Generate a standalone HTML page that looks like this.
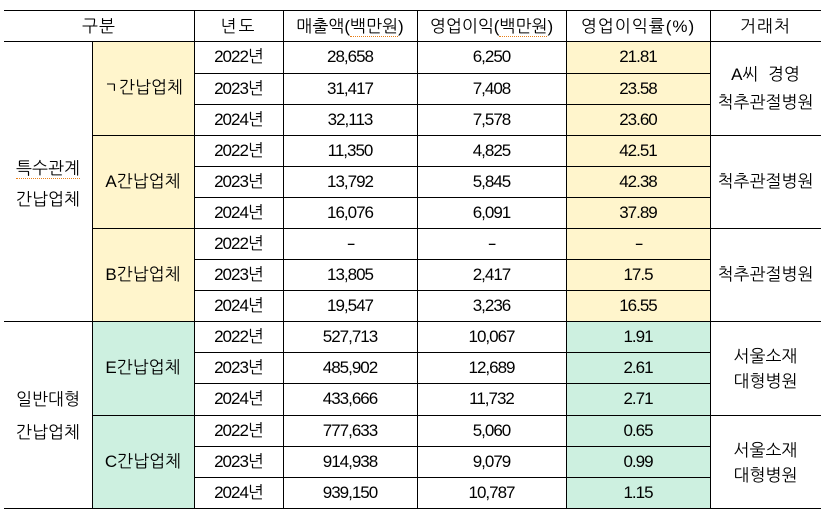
<!DOCTYPE html>
<html><head><meta charset="utf-8">
<style>
html,body{margin:0;padding:0;background:#fff;}
body{width:830px;height:522px;position:relative;overflow:hidden;font-family:"Liberation Sans","NanumGothic","Noto Sans CJK KR",sans-serif;color:#000;}
.bg{position:absolute;}
.y{background:#fff5cc;}
.g{background:#cdf0e0;}
.h{position:absolute;height:1px;background:#000;}
.v{position:absolute;width:1px;background:#000;}
.t{position:absolute;text-align:center;white-space:nowrap;font-size:17px;}
.n{font-size:17px;letter-spacing:-1px;}
.u{border-bottom:1px dotted #e8801a;}
.d{display:inline-block;transform:scaleX(1.6);}
.c2{left:92px;width:102px;}
.c3{left:194px;width:89px;}
.c4{left:283px;width:134px;}
.c5{left:417px;width:149px;}
.c6{left:566px;width:144px;}
.c7{left:710px;width:111px;}
.c1{left:4px;width:88px;}
</style></head><body>

<!-- backgrounds -->
<div class="bg y" style="left:92px;top:41px;width:102px;height:280px"></div>
<div class="bg g" style="left:92px;top:321px;width:102px;height:187px"></div>
<div class="bg y" style="left:566px;top:41px;width:144px;height:280px"></div>
<div class="bg g" style="left:566px;top:321px;width:144px;height:187px"></div>

<!-- horizontal lines -->
<div class="h" style="left:4px;width:817px;top:10px"></div>
<div class="h" style="left:4px;width:817px;top:41px"></div>
<div class="h" style="left:4px;width:817px;top:321px"></div>
<div class="h" style="left:4px;width:817px;top:508px"></div>
<div class="h" style="left:92px;width:729px;top:135px"></div>
<div class="h" style="left:92px;width:729px;top:228px"></div>
<div class="h" style="left:92px;width:729px;top:415px"></div>
<div class="h" style="left:194px;width:516px;top:73px"></div>
<div class="h" style="left:194px;width:516px;top:104px"></div>
<div class="h" style="left:194px;width:516px;top:166px"></div>
<div class="h" style="left:194px;width:516px;top:197px"></div>
<div class="h" style="left:194px;width:516px;top:259px"></div>
<div class="h" style="left:194px;width:516px;top:290px"></div>
<div class="h" style="left:194px;width:516px;top:352px"></div>
<div class="h" style="left:194px;width:516px;top:383px"></div>
<div class="h" style="left:194px;width:516px;top:446px"></div>
<div class="h" style="left:194px;width:516px;top:477px"></div>

<!-- vertical lines -->
<div class="v" style="left:92px;top:41px;height:468px"></div>
<div class="v" style="left:194px;top:10px;height:499px"></div>
<div class="v" style="left:283px;top:10px;height:499px"></div>
<div class="v" style="left:417px;top:10px;height:499px"></div>
<div class="v" style="left:566px;top:10px;height:499px"></div>
<div class="v" style="left:710px;top:10px;height:499px"></div>

<!-- header -->
<div class="t" style="left:4px;width:190px;top:11px;line-height:31px;letter-spacing:1px">구분</div>
<div class="t c3" style="top:11px;line-height:31px;letter-spacing:2px">년도</div>
<div class="t c4" style="top:11px;line-height:31px">매출액(<span class="u">백만원</span>)</div>
<div class="t c5" style="top:11px;line-height:31px">영업이익(<span class="u">백만원</span>)</div>
<div class="t c6" style="top:11px;line-height:31px;letter-spacing:1px">영업이익률(%)</div>
<div class="t c7" style="top:11px;line-height:31px;letter-spacing:1px">거래처</div>

<!-- left group col -->
<div class="t c1" style="top:153px;line-height:31px;">
<span class="u">특수관계</span><br>간납업체</div>
<div class="t c1" style="top:383px;line-height:33px;">일반대형<br>간납업체</div>

<!-- company col -->
<div class="t c2" style="top:41px;line-height:94px">ㄱ간납업체</div>
<div class="t c2" style="top:135px;line-height:93px">A간납업체</div>
<div class="t c2" style="top:228px;line-height:93px">B간납업체</div>
<div class="t c2" style="top:321px;line-height:94px">E간납업체</div>
<div class="t c2" style="top:415px;line-height:93px">C간납업체</div>

<!-- 거래처 col -->
<div class="t c7" style="top:61px;line-height:28px">A씨&nbsp; 경영<br>척추관절병원</div>
<div class="t c7" style="top:135px;line-height:93px">척추관절병원</div>
<div class="t c7" style="top:228px;line-height:93px">척추관절병원</div>
<div class="t c7" style="top:344px;line-height:25px">서울소재<br>대형병원</div>
<div class="t c7" style="top:438px;line-height:25px">서울소재<br>대형병원</div>

<!-- data rows -->
<div class="t n c3" style="top:41px;line-height:32px">2022년</div>
<div class="t n c4" style="top:41px;line-height:32px">28,658</div>
<div class="t n c5" style="top:41px;line-height:32px">6,250</div>
<div class="t n c6" style="top:41px;line-height:32px">21.81</div>

<div class="t n c3" style="top:73px;line-height:31px">2023년</div>
<div class="t n c4" style="top:73px;line-height:31px">31,417</div>
<div class="t n c5" style="top:73px;line-height:31px">7,408</div>
<div class="t n c6" style="top:73px;line-height:31px">23.58</div>

<div class="t n c3" style="top:104px;line-height:31px">2024년</div>
<div class="t n c4" style="top:104px;line-height:31px">32,113</div>
<div class="t n c5" style="top:104px;line-height:31px">7,578</div>
<div class="t n c6" style="top:104px;line-height:31px">23.60</div>

<div class="t n c3" style="top:135px;line-height:31px">2022년</div>
<div class="t n c4" style="top:135px;line-height:31px">11,350</div>
<div class="t n c5" style="top:135px;line-height:31px">4,825</div>
<div class="t n c6" style="top:135px;line-height:31px">42.51</div>

<div class="t n c3" style="top:166px;line-height:31px">2023년</div>
<div class="t n c4" style="top:166px;line-height:31px">13,792</div>
<div class="t n c5" style="top:166px;line-height:31px">5,845</div>
<div class="t n c6" style="top:166px;line-height:31px">42.38</div>

<div class="t n c3" style="top:197px;line-height:31px">2024년</div>
<div class="t n c4" style="top:197px;line-height:31px">16,076</div>
<div class="t n c5" style="top:197px;line-height:31px">6,091</div>
<div class="t n c6" style="top:197px;line-height:31px">37.89</div>

<div class="t n c3" style="top:228px;line-height:31px">2022년</div>
<div class="t n c4" style="top:228px;line-height:31px"><span class="d">-</span></div>
<div class="t n c5" style="top:228px;line-height:31px"><span class="d">-</span></div>
<div class="t n c6" style="top:228px;line-height:31px"><span class="d">-</span></div>

<div class="t n c3" style="top:259px;line-height:31px">2023년</div>
<div class="t n c4" style="top:259px;line-height:31px">13,805</div>
<div class="t n c5" style="top:259px;line-height:31px">2,417</div>
<div class="t n c6" style="top:259px;line-height:31px">17.5</div>

<div class="t n c3" style="top:290px;line-height:31px">2024년</div>
<div class="t n c4" style="top:290px;line-height:31px">19,547</div>
<div class="t n c5" style="top:290px;line-height:31px">3,236</div>
<div class="t n c6" style="top:290px;line-height:31px">16.55</div>

<div class="t n c3" style="top:321px;line-height:31px">2022년</div>
<div class="t n c4" style="top:321px;line-height:31px">527,713</div>
<div class="t n c5" style="top:321px;line-height:31px">10,067</div>
<div class="t n c6" style="top:321px;line-height:31px">1.91</div>

<div class="t n c3" style="top:352px;line-height:31px">2023년</div>
<div class="t n c4" style="top:352px;line-height:31px">485,902</div>
<div class="t n c5" style="top:352px;line-height:31px">12,689</div>
<div class="t n c6" style="top:352px;line-height:31px">2.61</div>

<div class="t n c3" style="top:383px;line-height:32px">2024년</div>
<div class="t n c4" style="top:383px;line-height:32px">433,666</div>
<div class="t n c5" style="top:383px;line-height:32px">11,732</div>
<div class="t n c6" style="top:383px;line-height:32px">2.71</div>

<div class="t n c3" style="top:415px;line-height:31px">2022년</div>
<div class="t n c4" style="top:415px;line-height:31px">777,633</div>
<div class="t n c5" style="top:415px;line-height:31px">5,060</div>
<div class="t n c6" style="top:415px;line-height:31px">0.65</div>

<div class="t n c3" style="top:446px;line-height:31px">2023년</div>
<div class="t n c4" style="top:446px;line-height:31px">914,938</div>
<div class="t n c5" style="top:446px;line-height:31px">9,079</div>
<div class="t n c6" style="top:446px;line-height:31px">0.99</div>

<div class="t n c3" style="top:477px;line-height:31px">2024년</div>
<div class="t n c4" style="top:477px;line-height:31px">939,150</div>
<div class="t n c5" style="top:477px;line-height:31px">10,787</div>
<div class="t n c6" style="top:477px;line-height:31px">1.15</div>

</body></html>
